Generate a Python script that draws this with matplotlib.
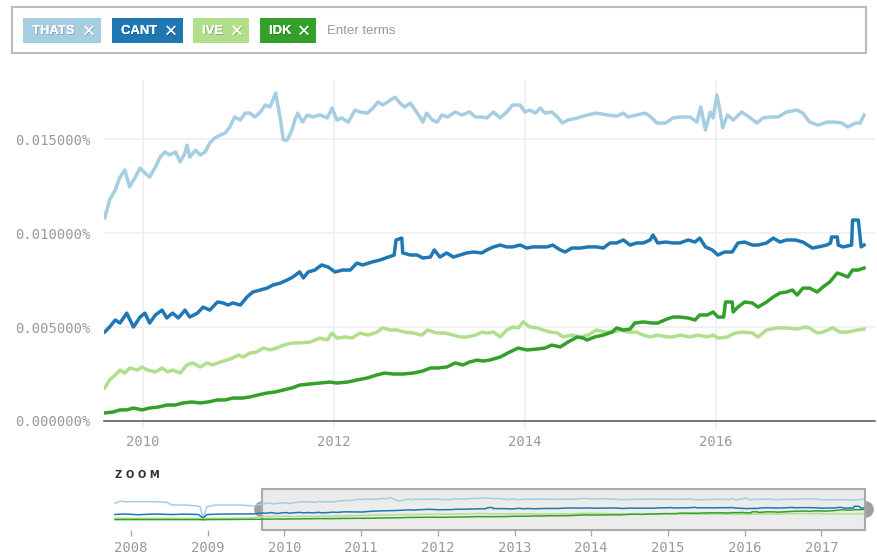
import matplotlib
matplotlib.use("Agg")
import matplotlib.pyplot as plt
import matplotlib.patheffects as pe
from matplotlib.patches import Rectangle
from matplotlib.ticker import FuncFormatter

W, H = 878, 554

terms = ["THATS", "CANT", "IVE", "IDK"]
colors = ["#a6cee3", "#1f78b4", "#b2df8a", "#33a02c"]

# (decimal year, share of words in %)
thats = [(2007.79, 0.0130), (2007.86, 0.0148), (2007.92, 0.0143), (2008.09, 0.0143), (2008.31, 0.0143),
         (2008.47, 0.0138), (2008.53, 0.0117), (2008.70, 0.0117), (2008.83, 0.0111), (2008.90, 0.0105),
         (2008.94, 0.0014), (2008.99, 0.0103), (2009.10, 0.0117), (2009.40, 0.0117), (2009.58, 0.0111),
         (2009.60, 0.01080), (2009.65, 0.01176), (2009.71, 0.01229), (2009.76, 0.01298), (2009.81, 0.01335),
         (2009.86, 0.01245), (2009.92, 0.01298), (2009.97, 0.01346), (2010.02, 0.01319), (2010.07, 0.01298),
         (2010.13, 0.01351), (2010.18, 0.01404), (2010.23, 0.01431), (2010.28, 0.01415), (2010.34, 0.01431),
         (2010.39, 0.01378), (2010.44, 0.01426), (2010.46, 0.01468), (2010.49, 0.01404), (2010.55, 0.01441),
         (2010.60, 0.01415), (2010.65, 0.01431), (2010.70, 0.01479), (2010.75, 0.01505), (2010.81, 0.01521),
         (2010.86, 0.01532), (2010.91, 0.01564), (2010.96, 0.01617), (2011.02, 0.01601), (2011.07, 0.01638),
         (2011.12, 0.01638), (2011.17, 0.01617), (2011.23, 0.01644), (2011.28, 0.01681), (2011.33, 0.01670),
         (2011.39, 0.01745), (2011.44, 0.01601), (2011.47, 0.01495), (2011.51, 0.01495), (2011.56, 0.01548),
         (2011.59, 0.01601), (2011.62, 0.01638), (2011.67, 0.01590), (2011.72, 0.01628), (2011.78, 0.01617),
         (2011.85, 0.01628), (2011.93, 0.01612), (2011.98, 0.01665), (2012.03, 0.01601), (2012.08, 0.01612),
         (2012.15, 0.01590), (2012.22, 0.01654), (2012.27, 0.01644), (2012.35, 0.01638), (2012.41, 0.01665),
         (2012.46, 0.01697), (2012.51, 0.01681), (2012.59, 0.01707), (2012.64, 0.01723), (2012.69, 0.01691),
         (2012.74, 0.01670), (2012.80, 0.01691), (2012.85, 0.01654), (2012.90, 0.01617), (2012.93, 0.01590),
         (2012.97, 0.01638), (2013.03, 0.01601), (2013.08, 0.01590), (2013.13, 0.01628), (2013.19, 0.01617),
         (2013.27, 0.01644), (2013.34, 0.01628), (2013.42, 0.01644), (2013.48, 0.01617), (2013.55, 0.01617),
         (2013.60, 0.01612), (2013.67, 0.01644), (2013.74, 0.01612), (2013.81, 0.01644), (2013.87, 0.01681),
         (2013.95, 0.01681), (2014.00, 0.01644), (2014.05, 0.01654), (2014.11, 0.01638), (2014.16, 0.01665),
         (2014.21, 0.01638), (2014.28, 0.01644), (2014.34, 0.01617), (2014.39, 0.01585), (2014.45, 0.01601),
         (2014.55, 0.01612), (2014.65, 0.01628), (2014.75, 0.01638), (2014.86, 0.01628), (2014.96, 0.01622),
         (2015.03, 0.01638), (2015.08, 0.01617), (2015.17, 0.01628), (2015.26, 0.01638), (2015.33, 0.01612),
         (2015.38, 0.01585), (2015.47, 0.01585), (2015.55, 0.01612), (2015.62, 0.01617), (2015.73, 0.01617),
         (2015.80, 0.01590), (2015.84, 0.01670), (2015.89, 0.01548), (2015.94, 0.01644), (2015.97, 0.01612),
         (2016.01, 0.01734), (2016.04, 0.01654), (2016.07, 0.01559), (2016.12, 0.01628), (2016.18, 0.01601),
         (2016.27, 0.01644), (2016.36, 0.01612), (2016.43, 0.01585), (2016.49, 0.01612), (2016.57, 0.01617),
         (2016.65, 0.01617), (2016.74, 0.01644), (2016.85, 0.01654), (2016.91, 0.01638), (2016.98, 0.01590),
         (2017.07, 0.01574), (2017.16, 0.01590), (2017.25, 0.01590), (2017.32, 0.01585), (2017.38, 0.01564),
         (2017.46, 0.01585), (2017.51, 0.01585), (2017.55, 0.01628)]

cant = [(2007.79, 0.0042), (2007.92, 0.0046), (2008.09, 0.0040), (2008.31, 0.0046), (2008.53, 0.0042),
        (2008.70, 0.0045), (2008.88, 0.0042), (2008.94, 0.0012), (2008.99, 0.0042), (2009.20, 0.0046),
        (2009.45, 0.0046),
        (2009.60, 0.00473), (2009.65, 0.00500), (2009.71, 0.00537), (2009.76, 0.00521), (2009.83, 0.00574),
        (2009.90, 0.00500), (2009.97, 0.00553), (2010.02, 0.00574), (2010.07, 0.00521), (2010.13, 0.00564),
        (2010.20, 0.00590), (2010.25, 0.00548), (2010.31, 0.00574), (2010.37, 0.00548), (2010.44, 0.00590),
        (2010.49, 0.00553), (2010.57, 0.00574), (2010.63, 0.00606), (2010.70, 0.00590), (2010.78, 0.00633),
        (2010.84, 0.00628), (2010.89, 0.00617), (2010.94, 0.00628), (2011.02, 0.00617), (2011.09, 0.00660),
        (2011.15, 0.00686), (2011.23, 0.00697), (2011.30, 0.00707), (2011.36, 0.00723), (2011.44, 0.00734),
        (2011.51, 0.00750), (2011.57, 0.00766), (2011.64, 0.00793), (2011.68, 0.00761), (2011.73, 0.00793),
        (2011.80, 0.00803), (2011.87, 0.00830), (2011.94, 0.00819), (2012.01, 0.00793), (2012.09, 0.00803),
        (2012.17, 0.00803), (2012.24, 0.00840), (2012.30, 0.00830), (2012.40, 0.00846), (2012.48, 0.00856),
        (2012.57, 0.00872), (2012.63, 0.00883), (2012.65, 0.00963), (2012.71, 0.00973), (2012.72, 0.00894),
        (2012.80, 0.00883), (2012.87, 0.00883), (2012.93, 0.00867), (2013.01, 0.00872), (2013.05, 0.00910),
        (2013.11, 0.00872), (2013.18, 0.00894), (2013.25, 0.00872), (2013.32, 0.00883), (2013.39, 0.00894),
        (2013.46, 0.00899), (2013.55, 0.00894), (2013.60, 0.00910), (2013.67, 0.00926), (2013.74, 0.00936),
        (2013.81, 0.00926), (2013.87, 0.00926), (2013.95, 0.00936), (2014.02, 0.00920), (2014.08, 0.00926),
        (2014.16, 0.00926), (2014.23, 0.00926), (2014.29, 0.00936), (2014.37, 0.00910), (2014.42, 0.00899),
        (2014.49, 0.00920), (2014.58, 0.00920), (2014.66, 0.00926), (2014.75, 0.00926), (2014.82, 0.00920),
        (2014.89, 0.00947), (2014.96, 0.00947), (2015.03, 0.00963), (2015.10, 0.00936), (2015.17, 0.00947),
        (2015.24, 0.00947), (2015.31, 0.00963), (2015.34, 0.00989), (2015.39, 0.00947), (2015.47, 0.00952),
        (2015.55, 0.00947), (2015.62, 0.00947), (2015.71, 0.00963), (2015.78, 0.00952), (2015.83, 0.00973),
        (2015.89, 0.00926), (2015.96, 0.00910), (2016.02, 0.00883), (2016.09, 0.00899), (2016.17, 0.00899),
        (2016.23, 0.00947), (2016.30, 0.00952), (2016.38, 0.00936), (2016.44, 0.00936), (2016.53, 0.00947),
        (2016.60, 0.00973), (2016.67, 0.00952), (2016.74, 0.00963), (2016.83, 0.00963), (2016.91, 0.00952),
        (2017.01, 0.00920), (2017.07, 0.00926), (2017.16, 0.00936), (2017.20, 0.00947), (2017.21, 0.00979),
        (2017.27, 0.00979), (2017.28, 0.00936), (2017.33, 0.00926), (2017.42, 0.00936), (2017.43, 0.01069),
        (2017.49, 0.01069), (2017.52, 0.00926), (2017.55, 0.00936)]

ive = [(2007.79, 0.0013), (2008.10, 0.0012), (2008.50, 0.0012), (2008.90, 0.0011), (2008.94, 0.0005),
       (2008.99, 0.0011), (2009.30, 0.0013), (2009.50, 0.0015),
       (2009.60, 0.00176), (2009.65, 0.00218), (2009.71, 0.00245), (2009.76, 0.00271), (2009.81, 0.00255),
       (2009.86, 0.00282), (2009.94, 0.00271), (2009.99, 0.00287), (2010.05, 0.00271), (2010.13, 0.00261),
       (2010.20, 0.00282), (2010.26, 0.00261), (2010.31, 0.00271), (2010.39, 0.00255), (2010.46, 0.00298),
       (2010.52, 0.00309), (2010.60, 0.00287), (2010.67, 0.00309), (2010.73, 0.00298), (2010.81, 0.00314),
       (2010.88, 0.00324), (2010.94, 0.00335), (2011.00, 0.00351), (2011.05, 0.00340), (2011.12, 0.00362),
       (2011.19, 0.00367), (2011.26, 0.00388), (2011.33, 0.00378), (2011.40, 0.00388), (2011.47, 0.00404),
       (2011.56, 0.00415), (2011.64, 0.00415), (2011.75, 0.00420), (2011.85, 0.00441), (2011.93, 0.00431),
       (2011.98, 0.00468), (2012.03, 0.00441), (2012.12, 0.00447), (2012.19, 0.00441), (2012.27, 0.00468),
       (2012.36, 0.00457), (2012.45, 0.00473), (2012.51, 0.00495), (2012.59, 0.00484), (2012.66, 0.00484),
       (2012.74, 0.00473), (2012.83, 0.00468), (2012.92, 0.00457), (2012.98, 0.00484), (2013.08, 0.00468),
       (2013.16, 0.00468), (2013.25, 0.00457), (2013.32, 0.00447), (2013.39, 0.00447), (2013.48, 0.00457),
       (2013.55, 0.00473), (2013.60, 0.00468), (2013.67, 0.00473), (2013.74, 0.00447), (2013.81, 0.00484),
       (2013.87, 0.00500), (2013.93, 0.00495), (2013.98, 0.00527), (2014.05, 0.00500), (2014.13, 0.00495),
       (2014.19, 0.00484), (2014.26, 0.00473), (2014.34, 0.00468), (2014.40, 0.00447), (2014.49, 0.00457),
       (2014.58, 0.00447), (2014.66, 0.00457), (2014.75, 0.00484), (2014.84, 0.00473), (2014.92, 0.00473),
       (2015.00, 0.00484), (2015.08, 0.00473), (2015.17, 0.00473), (2015.24, 0.00457), (2015.31, 0.00447),
       (2015.39, 0.00457), (2015.49, 0.00447), (2015.55, 0.00447), (2015.62, 0.00457), (2015.73, 0.00447),
       (2015.81, 0.00457), (2015.91, 0.00447), (2015.97, 0.00457), (2016.02, 0.00441), (2016.12, 0.00447),
       (2016.20, 0.00468), (2016.28, 0.00473), (2016.38, 0.00468), (2016.44, 0.00447), (2016.53, 0.00484),
       (2016.64, 0.00495), (2016.74, 0.00495), (2016.85, 0.00489), (2016.93, 0.00500), (2016.98, 0.00495),
       (2017.06, 0.00468), (2017.12, 0.00473), (2017.22, 0.00495), (2017.30, 0.00473), (2017.38, 0.00473),
       (2017.48, 0.00484), (2017.55, 0.00489)]

idk = [(2007.79, 0.0002), (2008.20, 0.0002), (2008.60, 0.0002), (2008.90, 0.0002), (2008.94, 0.0000),
       (2008.99, 0.0002), (2009.30, 0.0003), (2009.50, 0.0004),
       (2009.60, 0.00043), (2009.69, 0.00048), (2009.76, 0.00059), (2009.83, 0.00059), (2009.90, 0.00069),
       (2009.99, 0.00059), (2010.07, 0.00069), (2010.16, 0.00074), (2010.25, 0.00085), (2010.34, 0.00085),
       (2010.42, 0.00096), (2010.51, 0.00101), (2010.60, 0.00096), (2010.68, 0.00101), (2010.78, 0.00112),
       (2010.86, 0.00112), (2010.94, 0.00122), (2011.04, 0.00122), (2011.12, 0.00128), (2011.20, 0.00138),
       (2011.30, 0.00149), (2011.38, 0.00154), (2011.47, 0.00165), (2011.56, 0.00176), (2011.64, 0.00191),
       (2011.75, 0.00197), (2011.85, 0.00202), (2011.96, 0.00207), (2012.03, 0.00202), (2012.14, 0.00207),
       (2012.24, 0.00218), (2012.35, 0.00229), (2012.45, 0.00245), (2012.53, 0.00255), (2012.62, 0.00250),
       (2012.72, 0.00250), (2012.83, 0.00255), (2012.93, 0.00266), (2013.01, 0.00282), (2013.09, 0.00282),
       (2013.18, 0.00287), (2013.27, 0.00309), (2013.35, 0.00298), (2013.42, 0.00314), (2013.50, 0.00324),
       (2013.56, 0.00319), (2013.63, 0.00324), (2013.74, 0.00340), (2013.84, 0.00367), (2013.93, 0.00388),
       (2014.02, 0.00378), (2014.13, 0.00383), (2014.21, 0.00388), (2014.28, 0.00404), (2014.37, 0.00394),
       (2014.45, 0.00420), (2014.55, 0.00447), (2014.61, 0.00441), (2014.65, 0.00431), (2014.73, 0.00447),
       (2014.82, 0.00457), (2014.91, 0.00473), (2014.96, 0.00495), (2015.03, 0.00484), (2015.10, 0.00489),
       (2015.15, 0.00521), (2015.24, 0.00527), (2015.33, 0.00521), (2015.39, 0.00521), (2015.49, 0.00543),
       (2015.55, 0.00553), (2015.62, 0.00553), (2015.71, 0.00548), (2015.78, 0.00537), (2015.83, 0.00564),
       (2015.91, 0.00564), (2015.97, 0.00580), (2016.02, 0.00553), (2016.08, 0.00553), (2016.10, 0.00633),
       (2016.17, 0.00633), (2016.18, 0.00580), (2016.23, 0.00606), (2016.30, 0.00633), (2016.38, 0.00628),
       (2016.44, 0.00606), (2016.53, 0.00633), (2016.60, 0.00660), (2016.67, 0.00681), (2016.74, 0.00686),
       (2016.80, 0.00697), (2016.85, 0.00670), (2016.91, 0.00707), (2016.98, 0.00707), (2017.06, 0.00686),
       (2017.12, 0.00713), (2017.19, 0.00739), (2017.27, 0.00787), (2017.33, 0.00777), (2017.38, 0.00766),
       (2017.43, 0.00803), (2017.49, 0.00803), (2017.55, 0.00814)]

series = [thats, cant, ive, idk]

main_years = [2010, 2012, 2014, 2016]
main_yticks = [0.0, 0.005, 0.010, 0.015]
zoom_years = list(range(2008, 2018))
window = (2009.71, 2017.57)

plt.rcParams['font.family'] = 'DejaVu Sans Mono'
GRID = '#efefef'
LABEL = '#9a9a9a'

fig = plt.figure(figsize=(W / 100, H / 100), dpi=100)


def px_axes(x0, y0, x1, y1):
    # axes placed by pixel box, origin at top-left
    return fig.add_axes([x0 / W, 1 - y1 / H, (x1 - x0) / W, (y1 - y0) / H])


# main chart
ax = px_axes(104, 80, 875, 421)
for s, c in zip(series, colors):
    ax.plot([p[0] for p in s], [p[1] for p in s], color=c, lw=2.5,
            solid_joinstyle='round', zorder=3)
ax.set_xlim(2009.592, 2017.665)
ax.set_ylim(0, 0.01814)
ax.set_xticks(main_years)
ax.set_xticklabels([str(y) for y in main_years])
ax.set_yticks(main_yticks)
ax.yaxis.set_major_formatter(FuncFormatter(lambda v, _: f"{v:.6f}%"))
ax.grid(color=GRID, lw=1.2)
ax.set_axisbelow(True)
for side in ['top', 'right', 'left']:
    ax.spines[side].set_visible(False)
ax.spines['bottom'].set_color('#555555')
ax.spines['bottom'].set_linewidth(1.1)
ax.spines['bottom'].set_zorder(4)
ax.tick_params(axis='y', length=0, pad=10, labelsize=10, labelcolor=LABEL)
ax.tick_params(axis='x', length=6, width=1.2, color=GRID, pad=4,
               labelsize=10, labelcolor=LABEL)

# zoom navigator
nav = px_axes(113, 489, 866, 530)
nav.plot([window[0], window[1]], [0.0085, 0.0085], 'o', ms=11, color='#9e9e9e',
         zorder=0.5, clip_on=False)
nav.axvspan(window[0], window[1], facecolor='#ececec', edgecolor='#aaaaaa',
            lw=1.5, zorder=1, clip_on=False)
for s, c in zip(series, colors):
    nav.plot([p[0] for p in s], [p[1] for p in s], color=c, lw=1.1, zorder=2)
nav.set_xlim(2007.765, 2017.583)
nav.set_ylim(-0.0080, 0.0243)
nav.set_xticks(zoom_years)
nav.set_xticklabels([str(y) for y in zoom_years])
nav.set_yticks([])
for side in nav.spines:
    nav.spines[side].set_visible(False)
nav.tick_params(axis='x', length=4, width=1, color='#aaaaaa', pad=4,
                labelsize=10, labelcolor=LABEL)
fig.text(115 / W, 1 - 475 / H, "Z O O M", fontsize=7.2, fontweight='bold',
         color='#333333', va='center', family='DejaVu Sans')

# search box with term chips
ov = fig.add_axes([0, 0, 1, 1])
ov.set_xlim(0, W)
ov.set_ylim(H, 0)
ov.axis('off')
ov.add_patch(Rectangle((12, 7), 854, 46, fill=False, ec='#bbbbbb', lw=1.5))
chip_x = [(23, 101), (112, 183), (193, 249), (260, 316)]
shadow = [pe.withSimplePatchShadow(offset=(0.6, -0.6), shadow_rgbFace='#000000', alpha=0.25),
          pe.Normal()]
for (x0, x1), term, c in zip(chip_x, terms, colors):
    ov.add_patch(Rectangle((x0, 18), x1 - x0, 25, fc=c, ec='none'))
    ov.text(x0 + 9, 31, term, color='white', fontsize=9.4, fontweight='bold',
            family='Liberation Sans', va='center', ha='left', path_effects=shadow)
    ov.text(x1 - 12, 30.5, "\u00d7", color='white', fontsize=12,
            family='DejaVu Sans', va='center', ha='center', path_effects=shadow)
ov.text(327, 30.5, "Enter terms", color='#999999', fontsize=9.5,
        family='Liberation Sans', va='center', ha='left')

fig.savefig("out.png", dpi=100)
